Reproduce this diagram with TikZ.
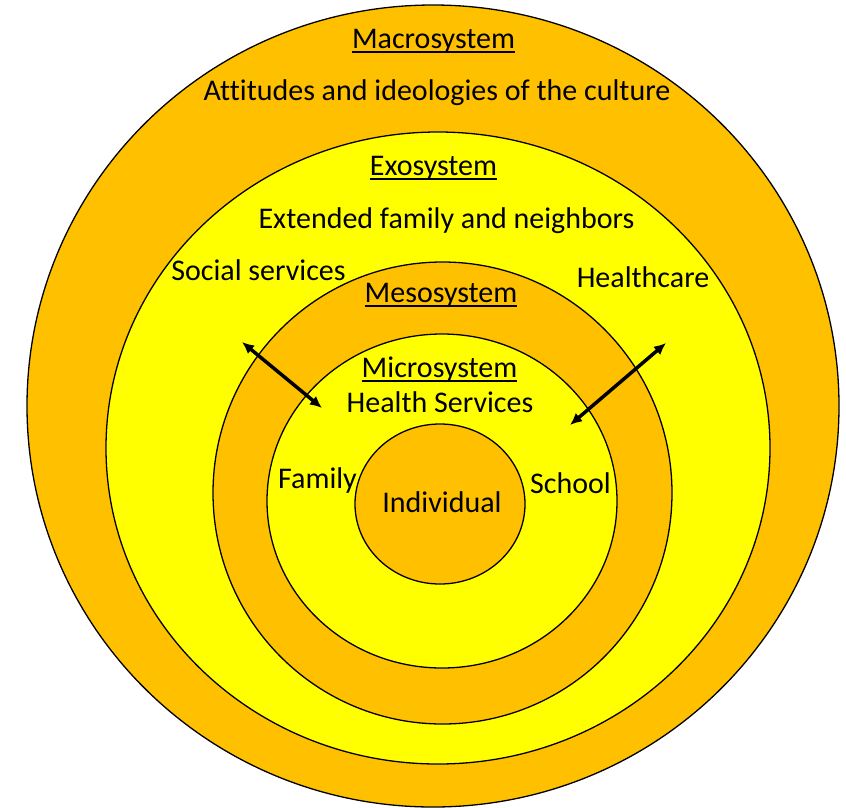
\documentclass[tikz,border=0pt]{standalone}
\usepackage{fontspec}
\setmainfont{Carlito}[Ligatures=NoCommon]
\usetikzlibrary{arrows.meta}
\definecolor{gold}{HTML}{FFC000}
\definecolor{lemon}{HTML}{FFFF00}
\newcommand{\myul}[1]{\setbox0\hbox{#1}\rlap{\rule[-0.16em]{\wd0}{0.06em}}\box0}
\tikzset{
  ring/.style={draw=black, line width=1.3pt},
  lbl/.style={anchor=base, inner sep=0pt, font=\fontsize{30}{32}\selectfont},
  link/.style={line width=3.5pt, {Latex[length=12pt,width=11pt]}-{Latex[length=12pt,width=11pt]}}
}
\begin{document}
\begin{tikzpicture}[x=1pt,y=-1pt]
\useasboundingbox (0,0) rectangle (846,807);
\fill[white] (0,0) rectangle (846,807);
\begin{scope}
\clip (0,0) rectangle (846,807);
\draw[ring, fill=gold] (433,406) ellipse [x radius=406, y radius=401];
\draw[ring, fill=lemon] (438,448) ellipse [x radius=332, y radius=316];
\draw[ring, fill=gold] (442.5,493) ellipse [x radius=229.5, y radius=231];
\draw[ring, fill=lemon] (442,501) ellipse [x radius=175, y radius=167];
\draw[ring, fill=gold] (440,504) ellipse [x radius=85, y radius=80];
\end{scope}

\node[lbl] (macro) at (433.5,48) {\myul{Macrosystem}};
\node[lbl] (attitudes) at (437,100) {Attitudes and ideologies of the culture};
\node[lbl] (exo) at (433.5,175) {\myul{Exosystem}};
\node[lbl] (extended) at (446.5,228) {Extended family and neighbors};
\node[lbl] (social) at (258.5,280) {Social services};
\node[lbl] (health) at (643,287) {Healthcare};
\node[lbl] (meso) at (441,302) {\myul{Mesosystem}};
\node[lbl] (micro) at (439.5,377) {\myul{Microsystem}};
\node[lbl] (hserv) at (440,412) {Health Services};
\node[lbl] (family) at (317.5,488) {Family};
\node[lbl] (school) at (570.5,493) {School};
\node[lbl] (indiv) at (442,512) {Individual};

\coordinate (la) at (242,342);
\coordinate (lb) at (322,408);
\coordinate (ra) at (666,343);
\coordinate (rb) at (570,425);
\draw[link] (la) -- (lb);
\draw[link] (ra) -- (rb);
\end{tikzpicture}
\end{document}
